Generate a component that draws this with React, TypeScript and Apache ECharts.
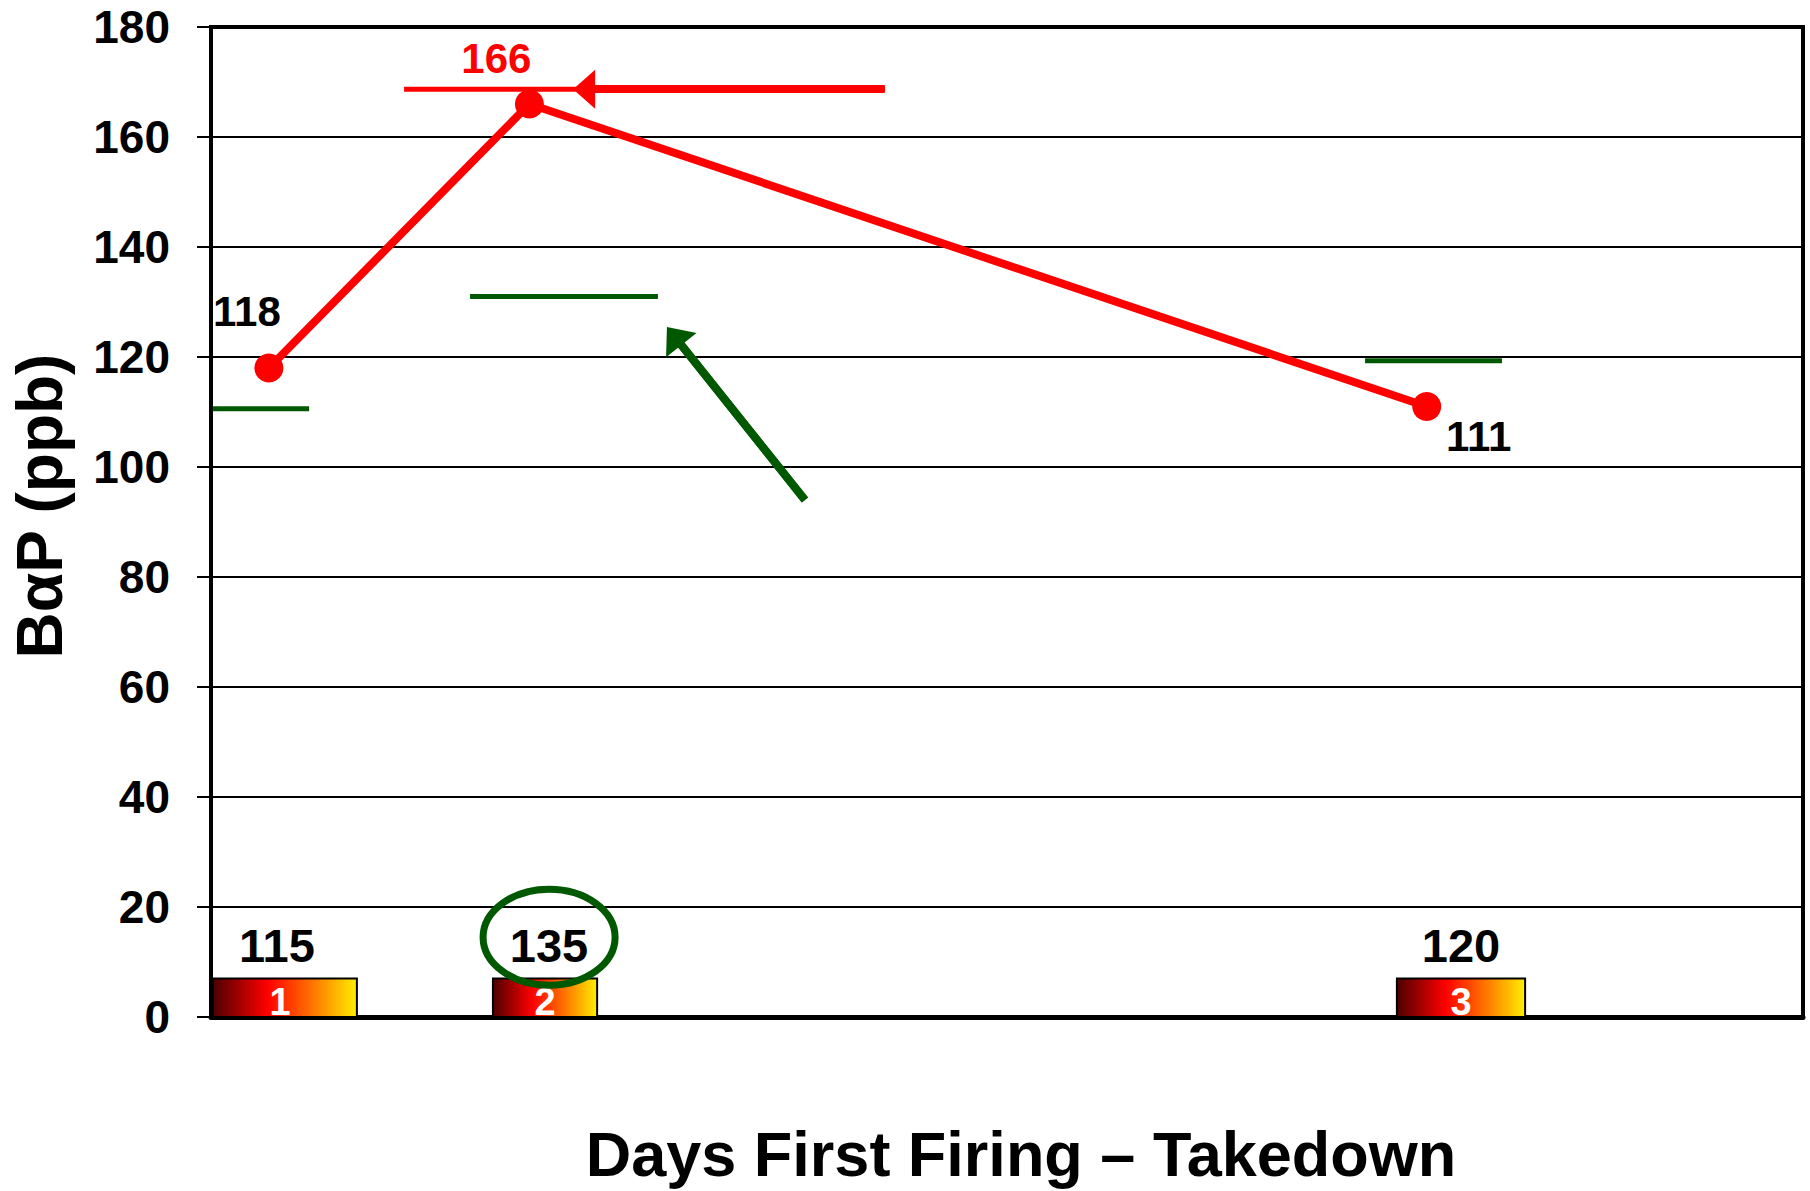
import React, { useEffect, useRef } from "react";
import * as echarts from "echarts";

const FONT = '"Liberation Sans", Arial, Helvetica, sans-serif';
const RED = "#ff0000";
const GREEN = "#005800";

// ---------- data ----------
const yMin = 0;
const yMax = 180;
const yStep = 20;
const dayMin = 0;
const dayMax = 55;

// BaP measurements (ppb) by day
const sampleDays = [2, 11, 42];
const bapValues = [118, 166, 111];

// Firings (numbered boxes) and the values printed above them
const firingNumbers = ["1", "2", "3"];
const firingStartDays = [0.07, 9.74, 40.97];
const firingEndDays = [5.04, 13.34, 45.4];
const firingBoxHeights = [7, 7, 7];
const firingValues = [115, 135, 120];

// Green reference levels
const refStartDays = [0.07, 8.95, 39.87];
const refEndDays = [3.39, 15.44, 44.6];
const refValues = [110.6, 131, 119.3];

// Red peak marker line with arrow
const peakLineDays = [6.67, 23.28];
const peakLineValue = 168.7;
const peakArrowEndDay = 12.89;

// Green arrow
const greenArrowDays = [20.52, 16.0];
const greenArrowValues = [94.0, 123.8];

// Highlighted firing value (ellipse)
const highlightDay = 11.68;
const highlightValue = 14.5;

// ---------- styles ----------
const pointLabelOffsets = [
  [-22, -57],
  [-33, -46],
  [52, 30],
];
const pointLabelColors = ["#000000", RED, "#000000"];
const firingValueNudges = [-8, 4, 0];
const firingNumberNudges = [-5, 0, 0];

export default function App() {
  const ref = useRef<HTMLDivElement>(null);

  useEffect(() => {
    if (!ref.current) return;
    const chart = echarts.init(ref.current, undefined, { renderer: "svg" });

    const firingSeries: any = {
      type: "custom",
      name: "Firings",
      silent: true,
      z: 3,
      data: firingStartDays.map((s, i) => [s, firingEndDays[i], firingBoxHeights[i], firingValues[i]]),
      encode: { x: [0, 1], y: 2 },
      renderItem: (params: any, api: any) => {
        const i = params.dataIndex;
        const p0 = api.coord([api.value(0), 0]);
        const p1 = api.coord([api.value(1), api.value(2)]);
        const x = p0[0];
        const w = p1[0] - p0[0];
        const y = p1[1];
        const h = p0[1] - p1[1];
        const numY = api.coord([0, 2.7])[1];
        return {
          type: "group",
          children: [
            {
              type: "rect",
              shape: { x, y, width: w, height: h },
              style: {
                fill: new echarts.graphic.LinearGradient(0, 0, 1, 0, [
                  { offset: 0, color: "#4d0000" },
                  { offset: 0.38, color: "#ff0000" },
                  { offset: 0.72, color: "#ff8000" },
                  { offset: 1, color: "#ffee00" },
                ]),
                stroke: "#000",
                lineWidth: 2,
              },
            },
            {
              type: "text",
              x: x + w / 2 + firingNumberNudges[i],
              y: numY,
              style: {
                text: firingNumbers[i],
                fill: "#ffffff",
                fontSize: 38,
                fontWeight: "bold",
                fontFamily: FONT,
                align: "center",
                verticalAlign: "middle",
              },
            },
            {
              type: "text",
              x: x + w / 2 + firingValueNudges[i],
              y: y - 33,
              style: {
                text: String(api.value(3)),
                fill: "#000000",
                fontSize: 47,
                fontWeight: "bold",
                fontFamily: FONT,
                align: "center",
                verticalAlign: "middle",
              },
            },
          ],
        };
      },
    };

    const highlightSeries: any = {
      type: "custom",
      name: "Highlight",
      silent: true,
      z: 4,
      data: [[highlightDay, highlightValue]],
      renderItem: (_params: any, api: any) => {
        const c = api.coord([api.value(0), api.value(1)]);
        return {
          type: "ellipse",
          shape: { cx: c[0], cy: c[1], rx: 66, ry: 48 },
          style: { fill: "none", stroke: GREEN, lineWidth: 7 },
        };
      },
    };

    const refSeries: any[] = refValues.map((v, i) => ({
      type: "line",
      name: "Reference " + (i + 1),
      silent: true,
      z: 2,
      data: [
        [refStartDays[i], v],
        [refEndDays[i], v],
      ],
      symbol: "none",
      color: GREEN,
      lineStyle: { color: GREEN, width: 5 },
    }));

    const greenArrowSeries: any = {
      type: "line",
      name: "Green arrow",
      silent: true,
      z: 5,
      color: GREEN,
      data: [
        [greenArrowDays[0], greenArrowValues[0]],
        [greenArrowDays[1], greenArrowValues[1]],
      ],
      symbol: "none",
      lineStyle: { color: GREEN, width: 8 },
      markLine: {
        silent: true,
        animation: false,
        label: { show: false },
        lineStyle: { color: GREEN, width: 8, type: "solid" },
        itemStyle: { color: GREEN },
        data: [
          [
            { coord: [greenArrowDays[0], greenArrowValues[0]], symbol: "none" },
            { coord: [greenArrowDays[1], greenArrowValues[1]], symbol: "triangle", symbolSize: [39, 23] },
          ],
        ],
      },
    };

    const peakSeries: any = {
      type: "line",
      name: "Peak marker",
      silent: true,
      z: 5,
      color: RED,
      data: [
        [peakLineDays[0], peakLineValue],
        [peakLineDays[1], peakLineValue],
      ],
      symbol: "none",
      lineStyle: { color: RED, width: 5 },
      markLine: {
        silent: true,
        animation: false,
        label: { show: false },
        lineStyle: { color: RED, width: 8, type: "solid" },
        itemStyle: { color: RED },
        data: [
          [
            { coord: [peakLineDays[1], peakLineValue], symbol: "none" },
            { coord: [peakArrowEndDay, peakLineValue], symbol: "triangle", symbolSize: [39, 22] },
          ],
        ],
      },
    };

    const bapSeries: any = {
      type: "line",
      name: "BaP",
      z: 10,
      color: RED,
      data: sampleDays.map((d, i) => ({
        value: [d, bapValues[i]],
        label: { offset: pointLabelOffsets[i], color: pointLabelColors[i] },
      })),
      symbol: "circle",
      symbolSize: 29,
      lineStyle: { color: RED, width: 8 },
      itemStyle: { color: RED },
      label: {
        show: true,
        position: "inside",
        fontSize: 42,
        fontWeight: "bold",
        fontFamily: FONT,
        formatter: (p: any) => String(p.value[1]),
      },
    };

    chart.setOption({
      animation: false,
      backgroundColor: "#ffffff",
      grid: {
        left: 211,
        right: 7,
        top: 27,
        bottom: 174,
        show: true,
        borderColor: "#000",
        borderWidth: 4,
        backgroundColor: "transparent",
      },
      xAxis: {
        type: "value",
        min: dayMin,
        max: dayMax,
        axisLine: { show: true, onZero: false, lineStyle: { color: "#000", width: 5 } },
        axisTick: { show: false },
        axisLabel: { show: false },
        splitLine: { show: false },
      },
      yAxis: {
        type: "value",
        min: yMin,
        max: yMax,
        interval: yStep,
        axisLine: { show: true, lineStyle: { color: "#000", width: 4 } },
        axisTick: { show: true, length: 14, lineStyle: { color: "#000", width: 2 } },
        axisLabel: {
          margin: 41,
          color: "#000",
          fontSize: 46,
          fontWeight: "bold",
          fontFamily: FONT,
        },
        splitLine: { show: true, lineStyle: { color: "#000", width: 2 } },
      },
      graphic: [
        {
          type: "text",
          x: 40,
          y: 506,
          rotation: Math.PI / 2,
          style: {
            text: "BαP (ppb)",
            fill: "#000",
            fontSize: 64,
            fontWeight: "bold",
            fontFamily: FONT,
            align: "center",
            verticalAlign: "middle",
          },
        },
        {
          type: "text",
          x: 1021,
          y: 1154,
          style: {
            text: "Days First Firing – Takedown",
            fill: "#000",
            fontSize: 63,
            fontWeight: "bold",
            fontFamily: FONT,
            align: "center",
            verticalAlign: "middle",
          },
        },
      ],
      series: [firingSeries, highlightSeries, ...refSeries, greenArrowSeries, peakSeries, bapSeries],
    });

    return () => {
      chart.dispose();
    };
  }, []);

  return (
    <div
      ref={ref}
      style={{ position: "absolute", left: 0, top: 0, width: 1810, height: 1191, background: "#fff" }}
    />
  );
}
